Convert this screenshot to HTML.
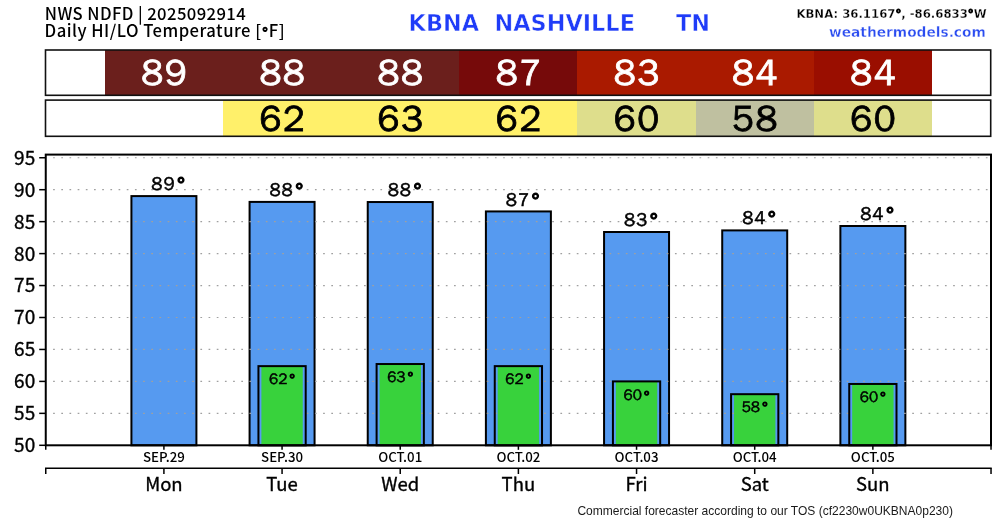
<!DOCTYPE html>
<html><head><meta charset="utf-8"><title>NWS NDFD Daily HI/LO Temperature - KBNA Nashville TN</title>
<style>
html,body{margin:0;padding:0;background:#fff;width:1000px;height:520px;overflow:hidden}
svg{display:block;will-change:transform}
.n{font-family:'Noto Sans CJK JP',sans-serif}
.w{font-family:'WenQuanYi Zen Hei',sans-serif}
.d{font-family:'DejaVu Sans',sans-serif;font-weight:bold}
.l{font-family:'Liberation Sans',Arial,sans-serif}
</style></head><body>
<svg width="1000" height="520" viewBox="0 0 1000 520">
<rect width="1000" height="520" fill="#fff"/>

<text class="n" x="44.8" y="20.2" font-size="16.67" font-weight="500" letter-spacing="0.4" fill="#000">NWS NDFD | 2025092914</text>
<text class="n" x="44.6" y="37.3" font-size="16.67" font-weight="500" letter-spacing="0.48" fill="#000">Daily HI/LO Temperature [<tspan class="w" font-size="14" stroke="#000" stroke-width="1" dx="0.6" dy="-0.8">°</tspan><tspan dy="0.8" dx="0.4">F]</tspan></text>
<text class="d" font-size="22.4" fill="#1f3cf8" stroke="#fff" stroke-width="0.5" x="408.6" y="30.6">KBNA</text>
<text class="d" font-size="22.4" fill="#1f3cf8" stroke="#fff" stroke-width="0.5" x="494.5" y="30.6">NASHVILLE</text>
<text class="d" font-size="22.4" fill="#1f3cf8" stroke="#fff" stroke-width="0.5" x="676.1" y="30.6">TN</text>
<text class="d" x="986.6" y="17.9" font-size="11.7" fill="#000" stroke="#fff" stroke-width="0.3" text-anchor="end">KBNA: 36.1167<tspan stroke="#000" stroke-width="0.9">°</tspan>, -86.6833<tspan stroke="#000" stroke-width="0.9">°</tspan>W</text>
<text class="d" x="985.8" y="36.8" font-size="13.75" fill="#2a4cf0" stroke="#fff" stroke-width="0.35" text-anchor="end">weathermodels.com</text>
<rect x="105" y="50" width="118" height="45.30" fill="#6b1f1c"/>
<rect x="223" y="50" width="118" height="45.30" fill="#6b1f1c"/>
<rect x="341" y="50" width="118" height="45.30" fill="#6b1f1c"/>
<rect x="459" y="50" width="118" height="45.30" fill="#760a0a"/>
<rect x="577" y="50" width="119" height="45.30" fill="#aa1a00"/>
<rect x="696" y="50" width="118" height="45.30" fill="#aa1a00"/>
<rect x="814" y="50" width="118" height="45.30" fill="#9a0e00"/>
<rect x="45.5" y="50" width="945.20" height="45.30" fill="none" stroke="#111" stroke-width="1.6"/>
<rect x="223" y="100.1" width="118" height="36.20" fill="#fff06a"/>
<rect x="341" y="100.1" width="118" height="36.20" fill="#fff06a"/>
<rect x="459" y="100.1" width="118" height="36.20" fill="#fff06a"/>
<rect x="577" y="100.1" width="119" height="36.20" fill="#dede8c"/>
<rect x="696" y="100.1" width="118" height="36.20" fill="#bfc0a0"/>
<rect x="814" y="100.1" width="118" height="36.20" fill="#dede8c"/>
<rect x="45.5" y="100.1" width="945.20" height="36.20" fill="none" stroke="#111" stroke-width="1.6"/>
<text class="w" x="164.71" y="84.9" font-size="36.5" letter-spacing="1.6" fill="#fff" stroke="#fff" stroke-width="0.8" text-anchor="middle">89</text>
<text class="w" x="282.87" y="84.9" font-size="36.5" letter-spacing="1.6" fill="#fff" stroke="#fff" stroke-width="0.8" text-anchor="middle">88</text>
<text class="w" x="282.87" y="130.9" font-size="36.5" letter-spacing="1.6" fill="#000" stroke="#000" stroke-width="0.8" text-anchor="middle">62</text>
<text class="w" x="401.03" y="84.9" font-size="36.5" letter-spacing="1.6" fill="#fff" stroke="#fff" stroke-width="0.8" text-anchor="middle">88</text>
<text class="w" x="401.03" y="130.9" font-size="36.5" letter-spacing="1.6" fill="#000" stroke="#000" stroke-width="0.8" text-anchor="middle">63</text>
<text class="w" x="519.19" y="84.9" font-size="36.5" letter-spacing="1.6" fill="#fff" stroke="#fff" stroke-width="0.8" text-anchor="middle">87</text>
<text class="w" x="519.19" y="130.9" font-size="36.5" letter-spacing="1.6" fill="#000" stroke="#000" stroke-width="0.8" text-anchor="middle">62</text>
<text class="w" x="637.35" y="84.9" font-size="36.5" letter-spacing="1.6" fill="#fff" stroke="#fff" stroke-width="0.8" text-anchor="middle">83</text>
<text class="w" x="637.35" y="130.9" font-size="36.5" letter-spacing="1.6" fill="#000" stroke="#000" stroke-width="0.8" text-anchor="middle">60</text>
<text class="w" x="755.51" y="84.9" font-size="36.5" letter-spacing="1.6" fill="#fff" stroke="#fff" stroke-width="0.8" text-anchor="middle">84</text>
<text class="w" x="755.51" y="130.9" font-size="36.5" letter-spacing="1.6" fill="#000" stroke="#000" stroke-width="0.8" text-anchor="middle">58</text>
<text class="w" x="873.67" y="84.9" font-size="36.5" letter-spacing="1.6" fill="#fff" stroke="#fff" stroke-width="0.8" text-anchor="middle">84</text>
<text class="w" x="873.67" y="130.9" font-size="36.5" letter-spacing="1.6" fill="#000" stroke="#000" stroke-width="0.8" text-anchor="middle">60</text>
<rect x="131.42" y="196.09" width="64.99" height="249.21" fill="#569af0" stroke="#000" stroke-width="2"/>
<rect x="249.58" y="201.90" width="64.99" height="243.40" fill="#569af0" stroke="#000" stroke-width="2"/>
<rect x="367.74" y="202.03" width="64.99" height="243.27" fill="#569af0" stroke="#000" stroke-width="2"/>
<rect x="485.90" y="211.43" width="64.99" height="233.87" fill="#569af0" stroke="#000" stroke-width="2"/>
<rect x="604.06" y="232.00" width="64.99" height="213.30" fill="#569af0" stroke="#000" stroke-width="2"/>
<rect x="722.22" y="230.40" width="64.99" height="214.90" fill="#569af0" stroke="#000" stroke-width="2"/>
<rect x="840.38" y="226.00" width="64.99" height="219.30" fill="#569af0" stroke="#000" stroke-width="2"/>
<line x1="46.75" y1="413.35" x2="990" y2="413.35" stroke="#a0a0a0" stroke-width="1.2" stroke-dasharray="1.7 6.482" stroke-dashoffset="1.822"/>
<line x1="46.75" y1="381.40" x2="990" y2="381.40" stroke="#a0a0a0" stroke-width="1.2" stroke-dasharray="1.7 6.482" stroke-dashoffset="1.822"/>
<line x1="46.75" y1="349.45" x2="990" y2="349.45" stroke="#a0a0a0" stroke-width="1.2" stroke-dasharray="1.7 6.482" stroke-dashoffset="1.822"/>
<line x1="46.75" y1="317.50" x2="990" y2="317.50" stroke="#a0a0a0" stroke-width="1.2" stroke-dasharray="1.7 6.482" stroke-dashoffset="1.822"/>
<line x1="46.75" y1="285.55" x2="990" y2="285.55" stroke="#a0a0a0" stroke-width="1.2" stroke-dasharray="1.7 6.482" stroke-dashoffset="1.822"/>
<line x1="46.75" y1="253.60" x2="990" y2="253.60" stroke="#a0a0a0" stroke-width="1.2" stroke-dasharray="1.7 6.482" stroke-dashoffset="1.822"/>
<line x1="46.75" y1="221.65" x2="990" y2="221.65" stroke="#a0a0a0" stroke-width="1.2" stroke-dasharray="1.7 6.482" stroke-dashoffset="1.822"/>
<line x1="46.75" y1="189.70" x2="990" y2="189.70" stroke="#a0a0a0" stroke-width="1.2" stroke-dasharray="1.7 6.482" stroke-dashoffset="1.822"/>
<line x1="46.75" y1="157.75" x2="990" y2="157.75" stroke="#a0a0a0" stroke-width="1.2" stroke-dasharray="1.7 6.482" stroke-dashoffset="1.822"/>
<rect x="261.39" y="366.13" width="41.36" height="79.17" fill="#38d23c"/>
<rect x="258.44" y="366.13" width="47.26" height="79.17" fill="none" stroke="#000" stroke-width="2"/>
<rect x="379.55" y="364.02" width="41.36" height="81.28" fill="#38d23c"/>
<rect x="376.60" y="364.02" width="47.26" height="81.28" fill="none" stroke="#000" stroke-width="2"/>
<rect x="497.71" y="366.13" width="41.36" height="79.17" fill="#38d23c"/>
<rect x="494.76" y="366.13" width="47.26" height="79.17" fill="none" stroke="#000" stroke-width="2"/>
<rect x="615.87" y="381.40" width="41.36" height="63.90" fill="#38d23c"/>
<rect x="612.92" y="381.40" width="47.26" height="63.90" fill="none" stroke="#000" stroke-width="2"/>
<rect x="734.03" y="394.18" width="41.36" height="51.12" fill="#38d23c"/>
<rect x="731.08" y="394.18" width="47.26" height="51.12" fill="none" stroke="#000" stroke-width="2"/>
<rect x="852.19" y="383.96" width="41.36" height="61.34" fill="#38d23c"/>
<rect x="849.24" y="383.96" width="47.26" height="61.34" fill="none" stroke="#000" stroke-width="2"/>
<text class="w" x="168.21" y="190.49" font-size="18.6" fill="#000" stroke="#000" stroke-width="0.5" letter-spacing="0.9" text-anchor="middle">89<tspan letter-spacing="0" dx="1.6" dy="1" stroke-width="1.2" font-size="20">°</tspan></text>
<text class="w" x="286.37" y="196.30" font-size="18.6" fill="#000" stroke="#000" stroke-width="0.5" letter-spacing="0.9" text-anchor="middle">88<tspan letter-spacing="0" dx="1.6" dy="1" stroke-width="1.2" font-size="20">°</tspan></text>
<text class="w" x="282.07" y="383.93" font-size="15.3" fill="#000" stroke="#000" stroke-width="0.45" text-anchor="middle">62<tspan dx="1.9" dy="0.4" stroke-width="1.0" font-size="14.5">°</tspan></text>
<text class="w" x="404.53" y="196.43" font-size="18.6" fill="#000" stroke="#000" stroke-width="0.5" letter-spacing="0.9" text-anchor="middle">88<tspan letter-spacing="0" dx="1.6" dy="1" stroke-width="1.2" font-size="20">°</tspan></text>
<text class="w" x="400.23" y="381.82" font-size="15.3" fill="#000" stroke="#000" stroke-width="0.45" text-anchor="middle">63<tspan dx="1.9" dy="0.4" stroke-width="1.0" font-size="14.5">°</tspan></text>
<text class="w" x="522.69" y="205.83" font-size="18.6" fill="#000" stroke="#000" stroke-width="0.5" letter-spacing="0.9" text-anchor="middle">87<tspan letter-spacing="0" dx="1.6" dy="1" stroke-width="1.2" font-size="20">°</tspan></text>
<text class="w" x="518.39" y="383.93" font-size="15.3" fill="#000" stroke="#000" stroke-width="0.45" text-anchor="middle">62<tspan dx="1.9" dy="0.4" stroke-width="1.0" font-size="14.5">°</tspan></text>
<text class="w" x="640.85" y="226.40" font-size="18.6" fill="#000" stroke="#000" stroke-width="0.5" letter-spacing="0.9" text-anchor="middle">83<tspan letter-spacing="0" dx="1.6" dy="1" stroke-width="1.2" font-size="20">°</tspan></text>
<text class="w" x="636.55" y="400.10" font-size="15.3" fill="#000" stroke="#000" stroke-width="0.45" text-anchor="middle">60<tspan dx="1.9" dy="0.4" stroke-width="1.0" font-size="14.5">°</tspan></text>
<text class="w" x="759.01" y="223.90" font-size="18.6" fill="#000" stroke="#000" stroke-width="0.5" letter-spacing="0.9" text-anchor="middle">84<tspan letter-spacing="0" dx="1.6" dy="1" stroke-width="1.2" font-size="20">°</tspan></text>
<text class="w" x="754.71" y="411.98" font-size="15.3" fill="#000" stroke="#000" stroke-width="0.45" text-anchor="middle">58<tspan dx="1.9" dy="0.4" stroke-width="1.0" font-size="14.5">°</tspan></text>
<text class="w" x="877.17" y="220.40" font-size="18.6" fill="#000" stroke="#000" stroke-width="0.5" letter-spacing="0.9" text-anchor="middle">84<tspan letter-spacing="0" dx="1.6" dy="1" stroke-width="1.2" font-size="20">°</tspan></text>
<text class="w" x="872.87" y="401.76" font-size="15.3" fill="#000" stroke="#000" stroke-width="0.45" text-anchor="middle">60<tspan dx="1.9" dy="0.4" stroke-width="1.0" font-size="14.5">°</tspan></text>
<rect x="45.75" y="154.6" width="945.25" height="290.70" fill="none" stroke="#000" stroke-width="2"/>
<line x1="39.2" y1="445.30" x2="45.75" y2="445.30" stroke="#000" stroke-width="1.5"/>
<text class="n" x="35.2" y="452.20" font-size="19" font-weight="400" fill="#000" stroke="#000" stroke-width="0.35" text-anchor="end">50</text>
<line x1="39.2" y1="413.35" x2="45.75" y2="413.35" stroke="#000" stroke-width="1.5"/>
<text class="n" x="35.2" y="420.25" font-size="19" font-weight="400" fill="#000" stroke="#000" stroke-width="0.35" text-anchor="end">55</text>
<line x1="39.2" y1="381.40" x2="45.75" y2="381.40" stroke="#000" stroke-width="1.5"/>
<text class="n" x="35.2" y="388.30" font-size="19" font-weight="400" fill="#000" stroke="#000" stroke-width="0.35" text-anchor="end">60</text>
<line x1="39.2" y1="349.45" x2="45.75" y2="349.45" stroke="#000" stroke-width="1.5"/>
<text class="n" x="35.2" y="356.35" font-size="19" font-weight="400" fill="#000" stroke="#000" stroke-width="0.35" text-anchor="end">65</text>
<line x1="39.2" y1="317.50" x2="45.75" y2="317.50" stroke="#000" stroke-width="1.5"/>
<text class="n" x="35.2" y="324.40" font-size="19" font-weight="400" fill="#000" stroke="#000" stroke-width="0.35" text-anchor="end">70</text>
<line x1="39.2" y1="285.55" x2="45.75" y2="285.55" stroke="#000" stroke-width="1.5"/>
<text class="n" x="35.2" y="292.45" font-size="19" font-weight="400" fill="#000" stroke="#000" stroke-width="0.35" text-anchor="end">75</text>
<line x1="39.2" y1="253.60" x2="45.75" y2="253.60" stroke="#000" stroke-width="1.5"/>
<text class="n" x="35.2" y="260.50" font-size="19" font-weight="400" fill="#000" stroke="#000" stroke-width="0.35" text-anchor="end">80</text>
<line x1="39.2" y1="221.65" x2="45.75" y2="221.65" stroke="#000" stroke-width="1.5"/>
<text class="n" x="35.2" y="228.55" font-size="19" font-weight="400" fill="#000" stroke="#000" stroke-width="0.35" text-anchor="end">85</text>
<line x1="39.2" y1="189.70" x2="45.75" y2="189.70" stroke="#000" stroke-width="1.5"/>
<text class="n" x="35.2" y="196.60" font-size="19" font-weight="400" fill="#000" stroke="#000" stroke-width="0.35" text-anchor="end">90</text>
<line x1="39.2" y1="157.75" x2="45.75" y2="157.75" stroke="#000" stroke-width="1.5"/>
<text class="n" x="35.2" y="164.65" font-size="19" font-weight="400" fill="#000" stroke="#000" stroke-width="0.35" text-anchor="end">95</text>
<line x1="45.75" y1="445.3" x2="45.75" y2="449.8" stroke="#000" stroke-width="1.5"/>
<line x1="163.91" y1="445.3" x2="163.91" y2="449.8" stroke="#000" stroke-width="1.5"/>
<line x1="282.07" y1="445.3" x2="282.07" y2="449.8" stroke="#000" stroke-width="1.5"/>
<line x1="400.23" y1="445.3" x2="400.23" y2="449.8" stroke="#000" stroke-width="1.5"/>
<line x1="518.39" y1="445.3" x2="518.39" y2="449.8" stroke="#000" stroke-width="1.5"/>
<line x1="636.55" y1="445.3" x2="636.55" y2="449.8" stroke="#000" stroke-width="1.5"/>
<line x1="754.71" y1="445.3" x2="754.71" y2="449.8" stroke="#000" stroke-width="1.5"/>
<line x1="872.87" y1="445.3" x2="872.87" y2="449.8" stroke="#000" stroke-width="1.5"/>
<line x1="991.03" y1="445.3" x2="991.03" y2="449.8" stroke="#000" stroke-width="1.5"/>
<text class="n" x="163.91" y="461.9" font-size="13.3" font-weight="500" fill="#000" text-anchor="middle">SEP.29</text>
<text class="n" x="282.07" y="461.9" font-size="13.3" font-weight="500" fill="#000" text-anchor="middle">SEP.30</text>
<text class="n" x="400.23" y="461.9" font-size="13.3" font-weight="500" fill="#000" text-anchor="middle">OCT.01</text>
<text class="n" x="518.39" y="461.9" font-size="13.3" font-weight="500" fill="#000" text-anchor="middle">OCT.02</text>
<text class="n" x="636.55" y="461.9" font-size="13.3" font-weight="500" fill="#000" text-anchor="middle">OCT.03</text>
<text class="n" x="754.71" y="461.9" font-size="13.3" font-weight="500" fill="#000" text-anchor="middle">OCT.04</text>
<text class="n" x="872.87" y="461.9" font-size="13.3" font-weight="500" fill="#000" text-anchor="middle">OCT.05</text>
<line x1="45" y1="468.2" x2="991.75" y2="468.2" stroke="#000" stroke-width="1.6"/>
<line x1="45.75" y1="468.2" x2="45.75" y2="474" stroke="#000" stroke-width="1.5"/>
<line x1="163.91" y1="468.2" x2="163.91" y2="474" stroke="#000" stroke-width="1.5"/>
<line x1="282.07" y1="468.2" x2="282.07" y2="474" stroke="#000" stroke-width="1.5"/>
<line x1="400.23" y1="468.2" x2="400.23" y2="474" stroke="#000" stroke-width="1.5"/>
<line x1="518.39" y1="468.2" x2="518.39" y2="474" stroke="#000" stroke-width="1.5"/>
<line x1="636.55" y1="468.2" x2="636.55" y2="474" stroke="#000" stroke-width="1.5"/>
<line x1="754.71" y1="468.2" x2="754.71" y2="474" stroke="#000" stroke-width="1.5"/>
<line x1="872.87" y1="468.2" x2="872.87" y2="474" stroke="#000" stroke-width="1.5"/>
<line x1="991.03" y1="468.2" x2="991.03" y2="474" stroke="#000" stroke-width="1.5"/>
<text class="n" x="163.91" y="490.6" font-size="18.5" font-weight="400" fill="#000" stroke="#000" stroke-width="0.35" text-anchor="middle">Mon</text>
<text class="n" x="282.07" y="490.6" font-size="18.5" font-weight="400" fill="#000" stroke="#000" stroke-width="0.35" text-anchor="middle">Tue</text>
<text class="n" x="400.23" y="490.6" font-size="18.5" font-weight="400" fill="#000" stroke="#000" stroke-width="0.35" text-anchor="middle">Wed</text>
<text class="n" x="518.39" y="490.6" font-size="18.5" font-weight="400" fill="#000" stroke="#000" stroke-width="0.35" text-anchor="middle">Thu</text>
<text class="n" x="636.55" y="490.6" font-size="18.5" font-weight="400" fill="#000" stroke="#000" stroke-width="0.35" text-anchor="middle">Fri</text>
<text class="n" x="754.71" y="490.6" font-size="18.5" font-weight="400" fill="#000" stroke="#000" stroke-width="0.35" text-anchor="middle">Sat</text>
<text class="n" x="872.87" y="490.6" font-size="18.5" font-weight="400" fill="#000" stroke="#000" stroke-width="0.35" text-anchor="middle">Sun</text>
<text class="l" x="577.4" y="515" font-size="12.03" fill="#1a1a1a">Commercial forecaster according to our TOS (cf2230w0UKBNA0p230)</text>
</svg>
</body></html>
